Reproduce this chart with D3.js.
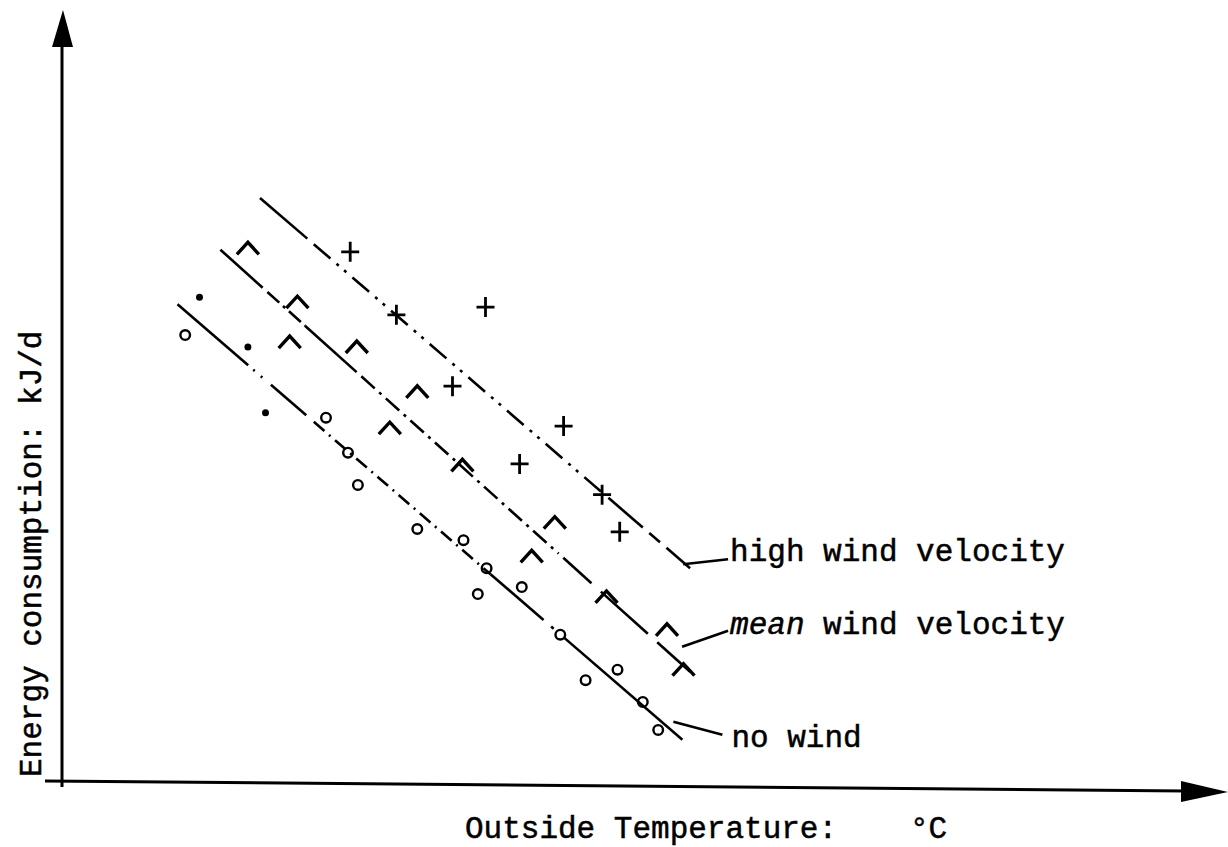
<!DOCTYPE html>
<html>
<head>
<meta charset="utf-8">
<script src="https://cdn.jsdelivr.net/npm/d3@7"></script>
<style>
  html, body { margin: 0; padding: 0; background: #fff; }
  svg { display: block; }
  text { font-family: "Liberation Mono", "DejaVu Sans Mono", monospace; fill: #000; }
</style>
</head>
<body>
<svg id="chart" width="1228" height="847"></svg>
<script>
// ---- Data (abstract units; the chart has no tick values) ----
const seriesNames = ["high wind velocity", "mean wind velocity", "no wind"];

// regression lines: [x0, y0, x1, y1]
const highLine = [18.0, 83.3, 57.1, 30.4];
const meanLine = [14.4, 75.9, 57.1, 15.6];
const noWindLine = [10.5, 68.1, 56.4, 5.9];

// high wind velocity observations (+)
const highX = [26.2, 30.4, 38.5, 35.5, 45.6, 41.6, 49.1, 50.7];
const highY = [75.6, 66.6, 67.7, 56.4, 50.7, 45.3, 40.9, 35.6];

// mean wind velocity observations (^)
const meanX = [16.9, 21.4, 20.7, 26.8, 32.3, 29.8, 36.4, 44.8, 42.7, 49.5, 55.0, 56.5];
const meanY = [76.1, 68.4, 62.7, 62.0, 55.6, 50.4, 45.1, 36.9, 32.1, 26.3, 21.6, 15.9];

// no wind observations: filled dots and open circles
const noWindDotX = [12.5, 16.9, 18.5];
const noWindDotY = [69.1, 62.0, 52.6];
const noWindCircX = [11.2, 24.0, 26.0, 26.9, 32.3, 36.5, 38.6, 37.8, 41.8, 45.3, 47.6, 50.5, 52.8, 54.2];
const noWindCircY = [63.7, 51.9, 46.9, 42.3, 36.0, 34.4, 30.4, 26.7, 27.7, 20.9, 14.4, 15.9, 11.3, 7.3];

const xAxisTitle = "Outside Temperature:";
const xAxisUnit = "°C";
const yAxisTitle = "Energy consumption:   kJ/d";

// ---- Scales ----
const svg = d3.select("#chart");
svg.append("rect").attr("width", 1228).attr("height", 847).attr("fill", "#fff");

const x = d3.scaleLinear().domain([0, 100]).range([62, 1162]);
const y = d3.scaleLinear().domain([0, 100]).range([781, 81]);

const ink = "#000";

// ---- Axes (arrows) ----
const axes = svg.append("g");
axes.append("line").attr("x1", 62).attr("y1", 44).attr("x2", 62).attr("y2", 787)
  .attr("stroke", ink).attr("stroke-width", 3);
axes.append("path").attr("d", "M63,10 L52,47 L73,47 Z").attr("fill", ink);
axes.append("line").attr("x1", 45).attr("y1", 781).attr("x2", 1185).attr("y2", 791)
  .attr("stroke", ink).attr("stroke-width", 3);
axes.append("path").attr("d", "M1228,792 L1181,781 L1181,802 Z").attr("fill", ink);

// ---- Lines with broken dash styles ----
function drawLine(seg, pieces) {
  const [x0, y0, x1, y1] = seg;
  const line = d3.line().x(d => x(d[0])).y(d => y(d[1]));
  const g = svg.append("g");
  pieces.forEach(([t0, t1, dash]) => {
    const p = [[x0 + (x1 - x0) * t0, y0 + (y1 - y0) * t0],
               [x0 + (x1 - x0) * t1, y0 + (y1 - y0) * t1]];
    g.append("path").attr("d", line(p))
      .attr("fill", "none").attr("stroke", ink).attr("stroke-width", 2.6)
      .attr("stroke-dasharray", dash);
  });
}
drawLine(highLine, [[0, 0.11, null], [0.125, 0.80, "22 8 3 7 3 8"], [0.81, 0.89, null], [0.905, 0.93, null], [0.945, 1, null]]);
drawLine(meanLine, [[0, 0.09, null], [0.10, 0.18, "16 5 3 5"], [0.18, 0.29, null], [0.30, 0.72, "18 6 3 6"], [0.73, 0.79, null], [0.81, 0.91, null], [0.93, 1, null]]);
drawLine(noWindLine, [[0, 0.14, null], [0.15, 0.18, "2 8"], [0.185, 0.255, null], [0.27, 0.62, "14 6 2 6"], [0.62, 0.725, null], [0.74, 0.745, null], [0.765, 1, null]]);

// ---- Markers ----
const zip = (a, b) => a.map((v, i) => [v, b[i]]);

svg.append("g").selectAll("path").data(zip(highX, highY)).join("path")
  .attr("transform", d => `translate(${x(d[0])},${y(d[1])})`)
  .attr("d", "M-9,0H9M0,-10V10")
  .attr("stroke", ink).attr("stroke-width", 2.8).attr("fill", "none");

svg.append("g").selectAll("path").data(zip(meanX, meanY)).join("path")
  .attr("transform", d => `translate(${x(d[0])},${y(d[1])})`)
  .attr("d", "M-11,6 L0,-6 L11,6")
  .attr("stroke", ink).attr("stroke-width", 3.4).attr("fill", "none")
  .attr("stroke-linejoin", "miter");

svg.append("g").selectAll("circle").data(zip(noWindDotX, noWindDotY)).join("circle")
  .attr("cx", d => x(d[0])).attr("cy", d => y(d[1])).attr("r", 3.5).attr("fill", ink);

svg.append("g").selectAll("circle").data(zip(noWindCircX, noWindCircY)).join("circle")
  .attr("cx", d => x(d[0])).attr("cy", d => y(d[1])).attr("r", 4.8)
  .attr("fill", "none").attr("stroke", ink).attr("stroke-width", 2.4);

// ---- Series labels with leader lines ----
const ends = [highLine, meanLine, noWindLine].map(s => [x(s[2]), y(s[3])]);
const leaderOffsets = [[-7, -4, 38, -9], [-8, -25, 38, -41], [-9, -18, 40, -5]];
const textOffsets = [[40, -7], [40, -38], [49, 7]];
const lab = svg.append("g");
seriesNames.forEach((name, i) => {
  const [ex, ey] = ends[i];
  const o = leaderOffsets[i];
  lab.append("line").attr("x1", ex + o[0]).attr("y1", ey + o[1])
    .attr("x2", ex + o[2]).attr("y2", ey + o[3])
    .attr("stroke", ink).attr("stroke-width", 2.6);
  const t = lab.append("text").attr("x", ex + textOffsets[i][0]).attr("y", ey + textOffsets[i][1])
    .attr("font-size", 31).attr("stroke", ink).attr("stroke-width", 0.5);
  if (name.startsWith("mean")) {
    t.append("tspan").attr("font-style", "italic").text("mean");
    t.append("tspan").text(name.slice(4));
  } else {
    t.text(name);
  }
});

// ---- Axis titles ----
svg.append("text").attr("x", 465).attr("y", 838).attr("font-size", 31)
  .attr("stroke", ink).attr("stroke-width", 0.5).text(xAxisTitle);
svg.append("text").attr("x", 910).attr("y", 838).attr("font-size", 31)
  .attr("stroke", ink).attr("stroke-width", 0.5).text(xAxisUnit);
svg.append("text").attr("transform", "translate(41,777) rotate(-90)")
  .attr("font-size", 31).attr("stroke", ink).attr("stroke-width", 0.5).text(yAxisTitle);
</script>
</body>
</html>
